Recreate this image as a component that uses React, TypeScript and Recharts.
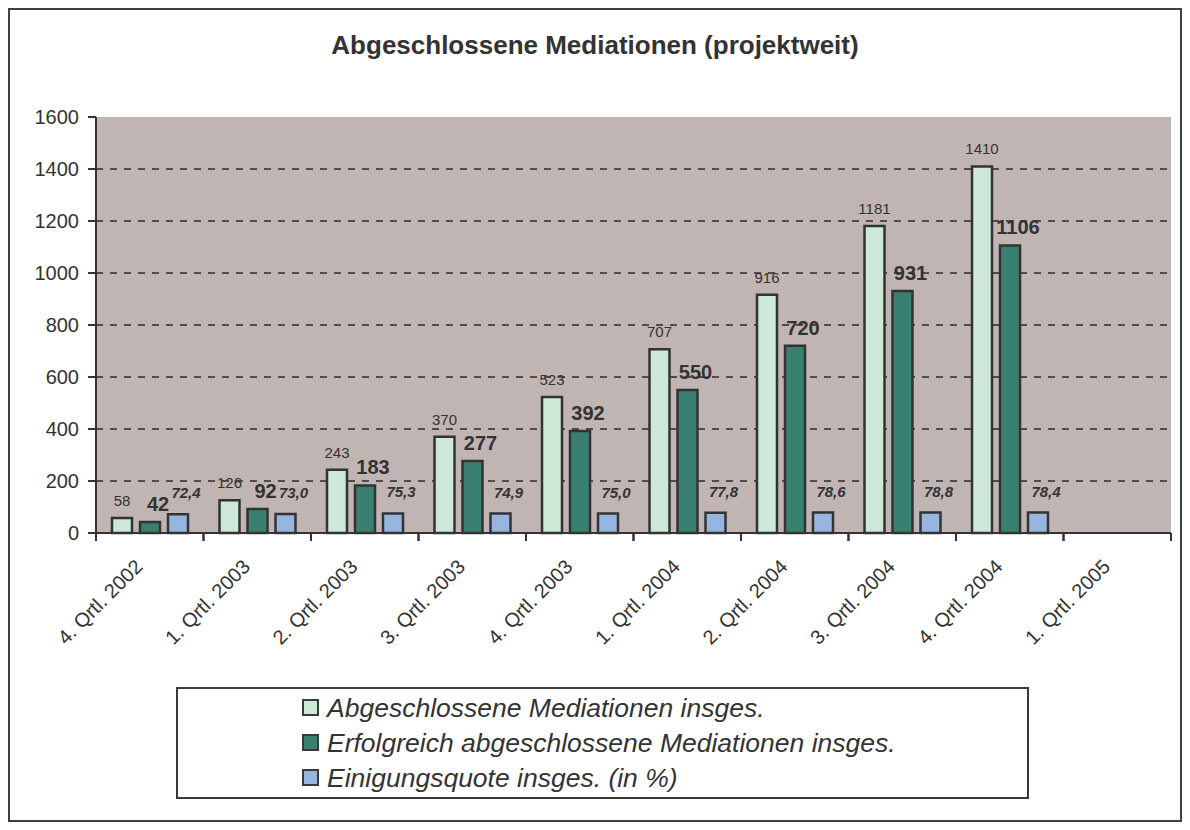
import React from "react";
import {
  BarChart,
  Bar,
  XAxis,
  YAxis,
  CartesianGrid,
  LabelList,
} from "recharts";

// Werte
const categories = [
  "4. Qrtl. 2002",
  "1. Qrtl. 2003",
  "2. Qrtl. 2003",
  "3. Qrtl. 2003",
  "4. Qrtl. 2003",
  "1. Qrtl. 2004",
  "2. Qrtl. 2004",
  "3. Qrtl. 2004",
  "4. Qrtl. 2004",
  "1. Qrtl. 2005",
];
const abgeschlossen = [58, 126, 243, 370, 523, 707, 916, 1181, 1410, null];
const erfolgreich = [42, 92, 183, 277, 392, 550, 720, 931, 1106, null];
const quote = [72.4, 73.0, 75.3, 74.9, 75.0, 77.8, 78.6, 78.8, 78.4, null];

const yTicks = [0, 200, 400, 600, 800, 1000, 1200, 1400, 1600];
const gridValues = [200, 400, 600, 800, 1000, 1200, 1400];

const SERIES = [
  { key: "abgeschlossen", name: "Abgeschlossene Mediationen insges.", color: "#CDE8D6" },
  { key: "erfolgreich", name: "Erfolgreich abgeschlossene Mediationen insges.", color: "#3A8070" },
  { key: "quote", name: "Einigungsquote insges. (in %)", color: "#96B6E0" },
];

const data = categories.map((name, i) => ({
  name,
  abgeschlossen: abgeschlossen[i],
  erfolgreich: erfolgreich[i],
  quote: quote[i],
}));

const FONT = "'Liberation Sans', Arial, Helvetica, sans-serif";
const INK = "#333333";

const CHART_W = 1170;
const CHART_H = 660;
const Y_AXIS_W = 80;
const MARGIN = { top: 107, right: 9, left: 6, bottom: 37 };
const BAND =
  (CHART_W - MARGIN.left - Y_AXIS_W - MARGIN.right) / categories.length;

const XTick = (props: any) => {
  const { x, y, payload } = props;
  const tx = x - 6;
  const ty = y + 27;
  return (
    <g>
      <line x1={x - BAND / 2} x2={x - BAND / 2} y1={y - 8} y2={y} stroke={INK} strokeWidth={2} />
      <line x1={x + BAND / 2} x2={x + BAND / 2} y1={y - 8} y2={y} stroke={INK} strokeWidth={2} />
      <text
        x={tx}
        y={ty}
        transform={`rotate(-45, ${tx}, ${ty})`}
        textAnchor="end"
        fontSize={20}
        fontFamily={FONT}
        fill={INK}
      >
        {payload.value}
      </text>
    </g>
  );
};

const makeLabel =
  (opts: {
    size: number;
    weight?: string;
    italic?: boolean;
    shift: number;
    gap: number;
    fmt: (v: number) => string;
  }) =>
  (props: any) => {
    const { x, y, width, value } = props;
    if (value === null || value === undefined) return null;
    return (
      <text
        x={Number(x) + Number(width) / 2 + opts.shift}
        y={Number(y) - opts.gap}
        textAnchor="middle"
        fontSize={opts.size}
        fontWeight={opts.weight || "normal"}
        fontStyle={opts.italic ? "italic" : "normal"}
        fontFamily={FONT}
        fill={INK}
      >
        {opts.fmt(Number(value))}
      </text>
    );
  };

const labelAll = makeLabel({ size: 15, shift: 0, gap: 12, fmt: (v) => String(v) });
const labelOk = makeLabel({ size: 20, weight: "bold", shift: 8, gap: 11, fmt: (v) => String(v) });
const labelQuote = makeLabel({
  size: 15,
  weight: "bold",
  italic: true,
  shift: 8,
  gap: 16,
  fmt: (v) => v.toFixed(1).replace(".", ","),
});

const App: React.FC = () => {
  return (
    <div
      style={{
        position: "relative",
        width: 1174,
        height: 814,
        border: "2px solid #404040",
        boxSizing: "border-box",
        background: "#fff",
        fontFamily: FONT,
      }}
    >
      <div
        style={{
          position: "absolute",
          top: 20,
          left: 0,
          width: "100%",
          textAlign: "center",
          fontSize: 26,
          lineHeight: "30px",
          fontWeight: "bold",
          color: INK,
        }}
      >
        Abgeschlossene Mediationen (projektweit)
      </div>

      <div style={{ position: "absolute", top: 0, left: 0 }}>
        <BarChart
          width={CHART_W}
          height={CHART_H}
          data={data}
          margin={MARGIN}
          barSize={20}
          barGap={8}
        >
          <CartesianGrid
            fill="#C1B5B3"
            fillOpacity={1}
            vertical={false}
            horizontalValues={gridValues}
            stroke="#2a2a2a"
            strokeWidth={1.5}
            strokeDasharray="7 7"
          />
          <XAxis
            dataKey="name"
            interval={0}
            height={100}
            axisLine={{ stroke: INK, strokeWidth: 2 }}
            tickLine={false}
            tickSize={8}
            tickMargin={0}
            tick={<XTick />}
          />
          <XAxis
            xAxisId="top"
            dataKey="name"
            orientation="top"
            height={0}
            tick={false}
            tickLine={false}
            axisLine={{ stroke: "#8E827E", strokeWidth: 2 }}
          />
          <YAxis
            domain={[0, 1600]}
            ticks={yTicks}
            width={Y_AXIS_W}
            interval={0}
            axisLine={{ stroke: INK, strokeWidth: 2 }}
            tickLine={{ stroke: INK, strokeWidth: 2 }}
            tickSize={8}
            tickMargin={9}
            tick={{ fill: INK, fontSize: 20, fontFamily: FONT }}
          />
          <YAxis
            yAxisId="right"
            orientation="right"
            domain={[0, 1600]}
            width={0}
            tick={false}
            tickLine={false}
            axisLine={{ stroke: "#8E827E", strokeWidth: 2 }}
          />
          {SERIES.map((s, i) => (
            <Bar
              key={s.key}
              dataKey={s.key}
              name={s.name}
              fill={s.color}
              stroke={INK}
              strokeWidth={2.5}
              isAnimationActive={false}
            >
              <LabelList
                dataKey={s.key}
                content={i === 0 ? labelAll : i === 1 ? labelOk : labelQuote}
              />
            </Bar>
          ))}
        </BarChart>
      </div>

      {/* Legende */}
      <div
        style={{
          position: "absolute",
          left: 166,
          top: 677,
          width: 853,
          height: 112,
          border: "2px solid #3a3a3a",
          boxSizing: "border-box",
          paddingTop: 1,
        }}
      >
        {SERIES.map((s) => (
          <div
            key={s.key}
            style={{
              display: "flex",
              alignItems: "center",
              height: 35,
              paddingLeft: 124,
            }}
          >
            <span
              style={{
                display: "inline-block",
                width: 13,
                height: 13,
                background: s.color,
                border: "2px solid #3a3a3a",
                marginRight: 8,
              }}
            />
            <span
              style={{
                fontStyle: "italic",
                fontSize: 26.5,
                color: INK,
                lineHeight: "30px",
              }}
            >
              {s.name}
            </span>
          </div>
        ))}
      </div>
    </div>
  );
};

export default App;
